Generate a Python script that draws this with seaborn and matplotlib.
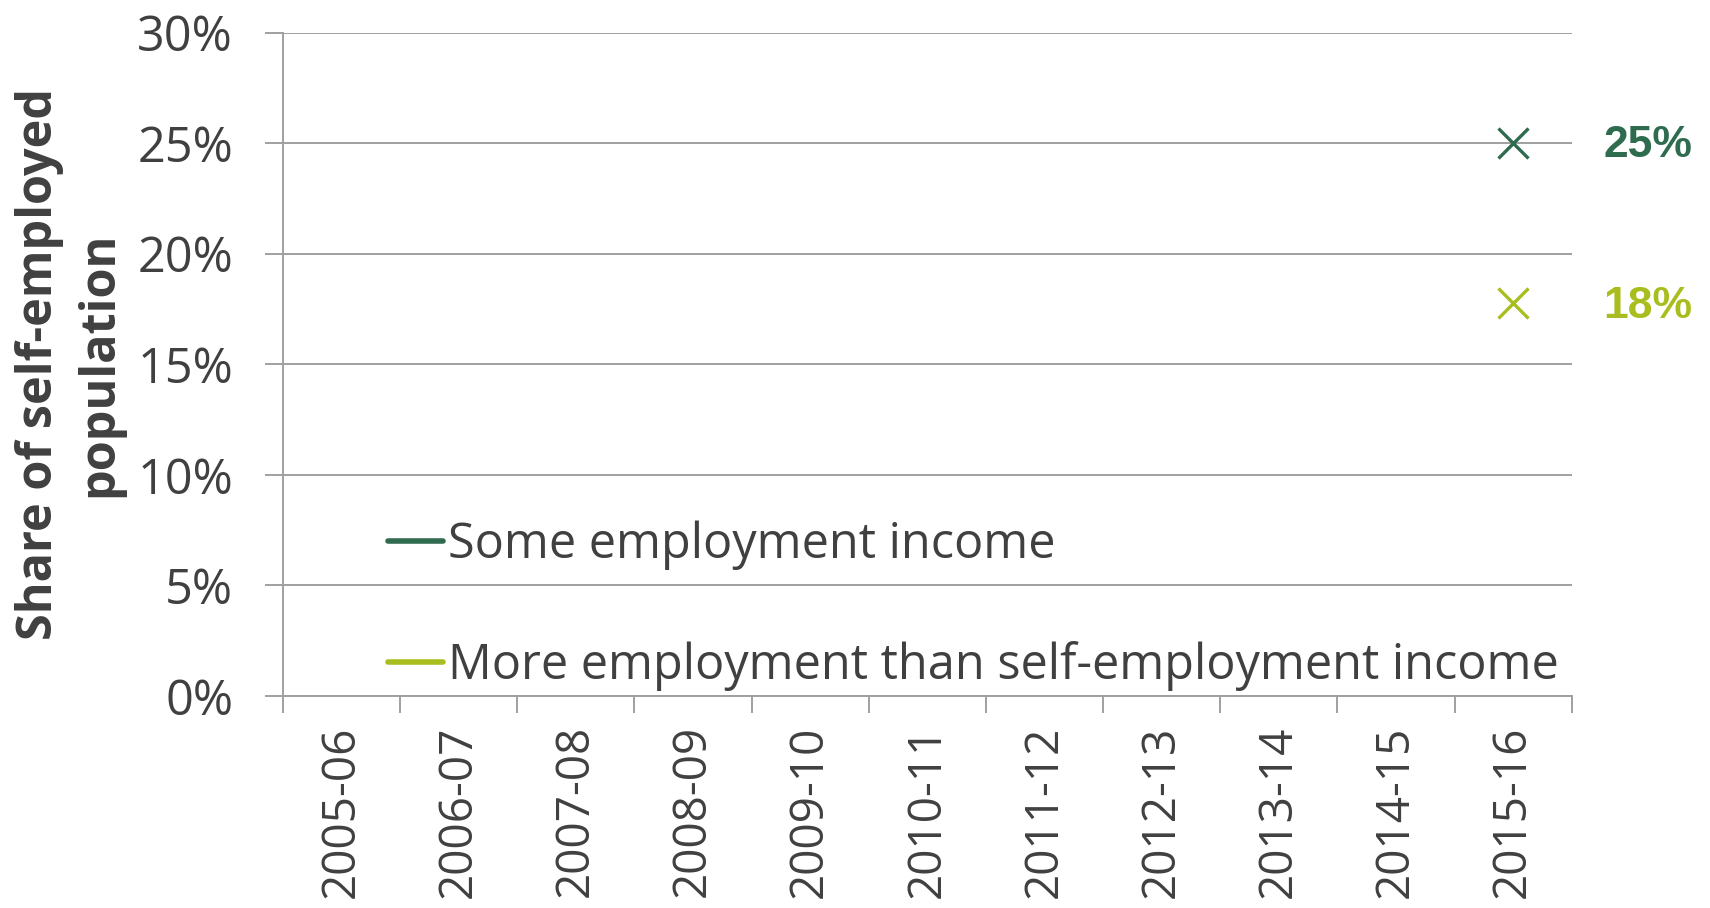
import matplotlib
matplotlib.use("Agg")
import matplotlib.pyplot as plt
import numpy as np
import pandas as pd
import seaborn as sns

# Data
years = ["2005-06", "2006-07", "2007-08", "2008-09", "2009-10", "2010-11",
         "2011-12", "2012-13", "2013-14", "2014-15", "2015-16"]
series_names = ["Some employment income",
                "More employment than self-employment income"]
some_employment = [np.nan] * 10 + [25.0]
more_employment = [np.nan] * 10 + [17.75]
colors = ["#2F6B4E", "#A9BE1E"]
y_ticks = [0, 5, 10, 15, 20, 25, 30]

sns.set_theme(style="white")
plt.rcParams["font.family"] = ["Open Sans", "DejaVu Sans"]

TEXT = "#404040"
GRID = "#a0a0a0"

df = pd.DataFrame({
    "pos": list(range(len(years))) * 2,
    "year": years * 2,
    "series": [series_names[0]] * len(years) + [series_names[1]] * len(years),
    "value": some_employment + more_employment,
})

fig = plt.figure(figsize=(17.1, 9.08), dpi=100)
ax = fig.add_axes([0.1655, 0.2335, 0.9191 - 0.1655, 0.9642 - 0.2335])

# One line-with-marker series per income group
for name, col in zip(series_names, colors):
    sub = df[df["series"] == name].dropna()
    sns.lineplot(data=sub, x="pos", y="value", color=col, label=name,
                 marker="x", markersize=21, markeredgewidth=2.4,
                 markeredgecolor=col, linewidth=3, ax=ax)

ax.set_xlim(-0.5, len(years) - 0.5)
ax.set_ylim(0, 30)
ax.set_yticks(y_ticks)
ax.set_yticklabels([f"{v}%" for v in y_ticks])
ax.set_xticks(range(len(years)))
ax.set_xticklabels(years, rotation=90)
ax.set_xticks(np.arange(-0.5, len(years), 1.0), minor=True)
ax.tick_params(axis="x", which="major", length=0, pad=21, labelsize=33,
               labelcolor=TEXT)
ax.tick_params(axis="x", which="minor", length=12.5, width=1.4, color=GRID,
               bottom=True)
ax.tick_params(axis="y", which="major", length=13, width=1.4, color=GRID,
               pad=23, labelsize=35, labelcolor=TEXT, left=True)
ax.set_xlabel("")
ax.set_ylabel("")

ax.yaxis.grid(True, color=GRID, linewidth=1.4)
ax.set_axisbelow(True)
for side in ["top", "right"]:
    ax.spines[side].set_visible(False)
for side in ["left", "bottom"]:
    ax.spines[side].set_color(GRID)
    ax.spines[side].set_linewidth(1.4)

# Value labels beside the latest points
for vals, col in zip([some_employment, more_employment], colors):
    v = vals[-1]
    ax.annotate(f"{v:.0f}%", xy=(len(years) - 1, v), xytext=(65, -2),
                textcoords="offset points", ha="left", va="center",
                fontsize=32, fontweight="bold", color=col,
                family=["Liberation Sans", "DejaVu Sans"],
                annotation_clip=False)

leg = ax.legend(loc="upper left", bbox_to_anchor=(0.0815, 0.264),
                frameon=False, fontsize=35, handlelength=1.13,
                handletextpad=0.1, labelspacing=1.46, borderpad=0,
                borderaxespad=0)
for h in leg.legend_handles:
    h.set_marker("")
    h.set_linewidth(4)
    h.set_solid_capstyle("round")
for t in leg.get_texts():
    t.set_color(TEXT)

fig.text(0.0405, 0.599, "Share of self-employed\npopulation", rotation=90,
         ha="center", va="center", multialignment="center", fontsize=35,
         fontweight="bold", color=TEXT, linespacing=1.3)

fig.savefig("out.png", dpi=100, facecolor="white")
